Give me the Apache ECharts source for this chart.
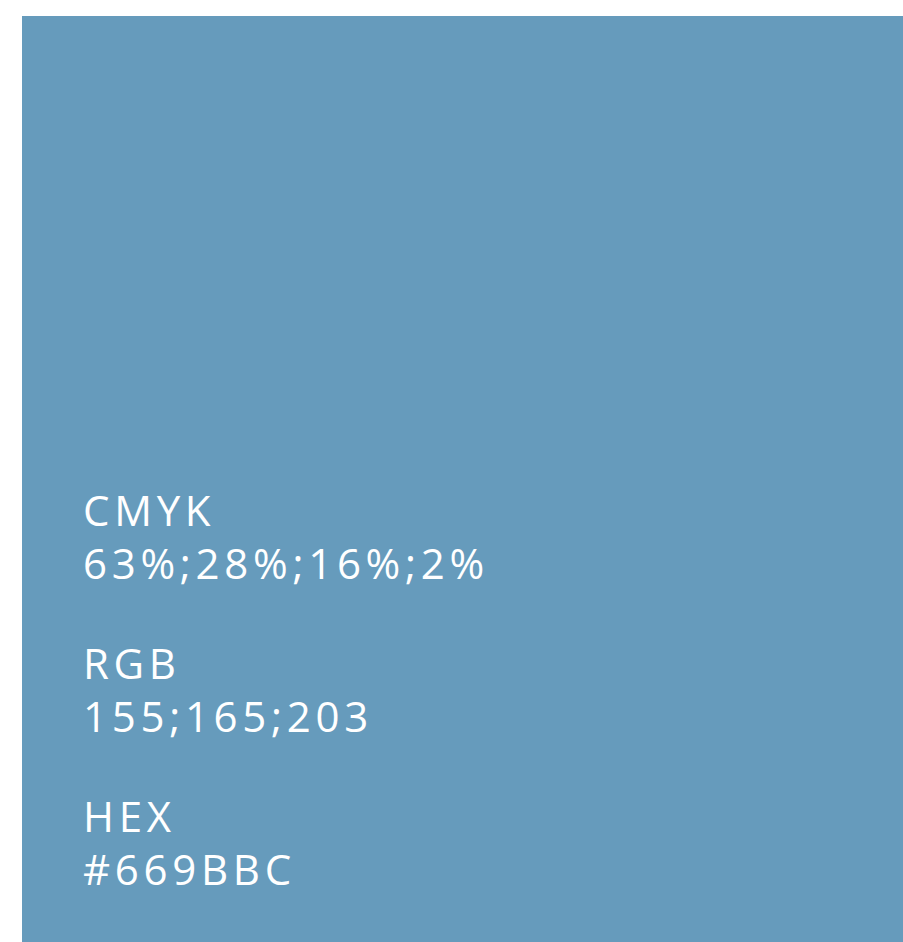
<!DOCTYPE html>
<html>
<head>
<meta charset="utf-8">
<script src="https://cdn.jsdelivr.net/npm/echarts@6/dist/echarts.min.js"></script>
<style>
  html, body { margin: 0; padding: 0; background: #fff; }
  /* Open Sans in the reference is tracked out a little; svg text inherits this */
  #main { width: 903px; height: 942px; letter-spacing: 4.7px; }
</style>
</head>
<body>
<div id="main"></div>
<script>
// swatch data
var swatchColor = "#669BBC";
var labels = ["CMYK", "RGB", "HEX"];
var values = ["63%;28%;16%;2%", "155;165;203", "#669BBC"];

var chart = echarts.init(document.getElementById("main"), null, { renderer: "svg" });

var textStyle = {
  fill: "#ffffff",
  fontFamily: "Open Sans",
  fontSize: 42,
  align: "left",
  verticalAlign: "middle"
};

var elements = [
  {
    type: "rect",
    shape: { x: 22, y: 16, width: 881, height: 926 },
    style: { fill: swatchColor }
  }
];

labels.forEach(function (name, i) {
  var base = 509 + i * 153;
  elements.push({
    type: "text",
    x: 83,
    y: base,
    style: Object.assign({ text: name }, textStyle)
  });
  elements.push({
    type: "text",
    x: 83,
    y: base + 53,
    style: Object.assign({ text: values[i] }, textStyle)
  });
});

chart.setOption({
  animation: false,
  backgroundColor: "#ffffff",
  graphic: { elements: elements }
});
</script>
</body>
</html>
